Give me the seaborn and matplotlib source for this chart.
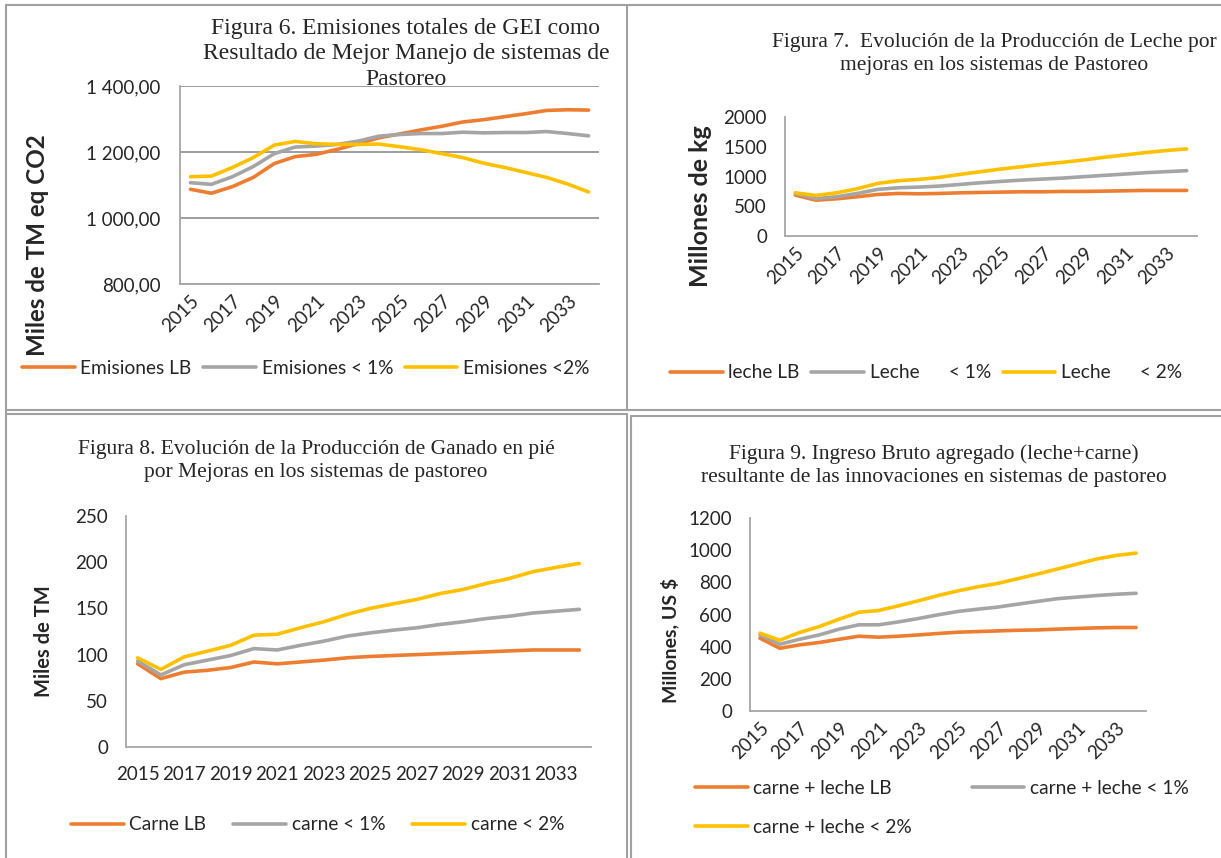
import numpy as np
import matplotlib
matplotlib.use("Agg")
import matplotlib.pyplot as plt
import seaborn as sns
from matplotlib.lines import Line2D

# Data
years = list(range(2015, 2035))

emis_lb = [1087, 1075, 1095, 1123, 1165, 1186, 1193, 1208, 1225, 1243,
           1255, 1267, 1278, 1291, 1298, 1307, 1316, 1326, 1328, 1327]
emis_1 = [1107, 1102, 1125, 1156, 1195, 1215, 1218, 1223, 1233, 1248,
          1253, 1256, 1256, 1260, 1258, 1259, 1259, 1262, 1256, 1249]
emis_2 = [1125, 1127, 1153, 1183, 1221, 1232, 1225, 1223, 1223, 1224,
          1216, 1207, 1195, 1183, 1166, 1153, 1138, 1123, 1103, 1079]

leche_lb = [687, 602, 625, 659, 698, 715, 709, 715, 726, 732,
            738, 743, 743, 749, 749, 754, 760, 766, 766, 766]
leche_1 = [715, 630, 659, 715, 783, 811, 822, 839, 867, 895,
           918, 940, 957, 974, 997, 1019, 1041, 1064, 1081, 1098]
leche_2 = [726, 681, 726, 794, 884, 929, 951, 985, 1036, 1081,
           1126, 1165, 1205, 1239, 1278, 1323, 1362, 1402, 1436, 1464]

carne_lb = [90, 74, 81, 83, 86, 92, 90, 92, 94, 96.5,
            98, 99, 100, 101, 102, 103, 104, 105, 105, 105]
carne_1 = [93, 78, 89, 94, 99, 106.5, 105, 110, 114.5, 120,
           123.5, 126.5, 129, 132.6, 135.5, 139, 141.6, 145, 147, 149]
carne_2 = [96.5, 84, 97.5, 103.7, 110, 121, 122, 129, 135.5, 143.4,
           150, 155, 159.7, 166, 170.5, 177, 182.5, 189.7, 194.4, 198.7]

ingreso_lb = [453, 390, 411, 426, 446, 465, 459, 465, 473, 482,
              490, 494, 498, 502, 504, 509, 513, 517, 519, 519]
ingreso_1 = [473, 415, 446, 473, 509, 536, 536, 554, 575, 598,
             619, 633, 646, 664, 681, 698, 708, 718, 726, 732]
ingreso_2 = [484, 440, 488, 525, 571, 614, 625, 654, 685, 718,
             747, 772, 793, 822, 851, 882, 913, 945, 967, 982]

ORANGE = "#ED7D31"
GRAY = "#A5A5A5"
YELLOW = "#FFC000"
AXIS = "#A6A6A6"

sns.set_style("white")
plt.rcParams["font.family"] = ["Lato", "DejaVu Sans"]

W, H = 1221, 858
fig = plt.figure(figsize=(W / 100, H / 100), dpi=100)


def add_ax(left, top, right, bottom):
    return fig.add_axes([left / W, 1 - bottom / H, (right - left) / W, (bottom - top) / H])


def fx(x):
    return x / W


def fy(y):
    return 1 - y / H


pos = np.arange(len(years))


def draw(ax, series, labels, ylim, yticks, yfmt, ylabel, ylabel_size, rotate, grid=False):
    for vals, lab, col in zip(series, labels, [ORANGE, GRAY, YELLOW]):
        sns.lineplot(x=pos, y=vals, ax=ax, color=col, lw=2.6, label=lab,
                     solid_capstyle="round", solid_joinstyle="round")
    ax.set_xlim(-0.5, len(years) - 0.5)
    ax.set_ylim(*ylim)
    ax.set_yticks(yticks)
    ax.set_yticklabels([yfmt(v) for v in yticks], fontsize=13.5)
    ax.set_xticks(pos[::2])
    if rotate:
        ax.set_xticklabels([str(y) for y in years[::2]], rotation=45, ha="right",
                           rotation_mode="anchor", fontsize=13.5)
    else:
        ax.set_xticklabels([str(y) for y in years[::2]], fontsize=13.5)
    ax.tick_params(axis="x", length=0, pad=6)
    ax.tick_params(axis="y", length=0, pad=13)
    for s in ["top", "right"]:
        ax.spines[s].set_visible(False)
    for s in ["left", "bottom"]:
        ax.spines[s].set_color(AXIS)
        ax.spines[s].set_linewidth(1.3)
    if grid:
        ax.yaxis.grid(True, color="#8C8C8C", lw=1.2)
        ax.set_axisbelow(True)
    ax.set_xlabel("")
    ax.set_ylabel(ylabel, fontsize=ylabel_size, fontweight="bold")
    ax.get_legend().remove()
    ax.set_facecolor("none")


def place_ylabel(ax, right_px, center_px, left, top, right, bottom):
    ax.yaxis.set_label_coords((right_px - left) / (right - left),
                              (bottom - center_px) / (bottom - top))


# Table borders
for (x0, y0, x1, y1) in [(6, 5, 1221, 5), (6, 5, 6, 858), (627, 5, 627, 410),
                         (6, 410, 1221, 410), (6, 414, 627, 414), (631, 416, 1221, 416),
                         (631, 416, 631, 858), (627, 414, 627, 858)]:
    fig.add_artist(Line2D([fx(x0), fx(x1)], [fy(y0), fy(y1)], color="#A0A0A0", lw=1.5))

# Figura 6
box1 = (180, 86, 599, 284)
ax1 = add_ax(*box1)
draw(ax1, [emis_lb, emis_1, emis_2], ["Emisiones LB", "Emisiones < 1%", "Emisiones <2%"],
     (800, 1400), [800, 1000, 1200, 1400],
     lambda v: f"{v // 1000} {v % 1000:03d},00" if v >= 1000 else f"{v},00",
     "Miles de TM eq CO2", 17.4, True, grid=True)
ax1.set_xticks(np.arange(-0.5, len(years)), minor=True)
ax1.tick_params(axis="x", which="minor", length=6, color=AXIS, width=1.3, direction="out")
ax1.tick_params(axis="y", length=6, color="#8C8C8C", width=1.2, direction="out", pad=8)
place_ylabel(ax1, 49, 245, *box1)
fig.text(fx(406), fy(18), "Figura 6. Emisiones totales de GEI como\nResultado de Mejor Manejo de sistemas de\nPastoreo",
         ha="center", va="top", fontsize=17, family="Liberation Serif", linespacing=1.27)

# Figura 7
box2 = (785, 117, 1197, 236)
ax2 = add_ax(*box2)
draw(ax2, [leche_lb, leche_1, leche_2], ["leche LB", "Leche      < 1%", "Leche      < 2%"],
     (0, 2000), [0, 500, 1000, 1500, 2000], lambda v: f"{v}",
     "Millones de kg", 18, True)
place_ylabel(ax2, 712, 206, *box2)
fig.text(fx(994), fy(33), "Figura 7.  Evolución de la Producción de Leche por\nmejoras en los sistemas de Pastoreo",
         ha="center", va="top", fontsize=15.5, family="Liberation Serif", linespacing=1.27)

# Figura 8
box3 = (126, 516, 591, 747)
ax3 = add_ax(*box3)
draw(ax3, [carne_lb, carne_1, carne_2], ["Carne LB", "carne < 1%", "carne < 2%"],
     (0, 250), [0, 50, 100, 150, 200, 250], lambda v: f"{v}",
     "Miles de TM", 14.5, False)
place_ylabel(ax3, 54, 641, *box3)
ax3.tick_params(axis="x", pad=14)
fig.text(fx(316), fy(440), "Figura 8. Evolución de la Producción de Ganado en pié\npor Mejoras en los sistemas de pastoreo",
         ha="center", va="top", fontsize=15.5, family="Liberation Serif", linespacing=1.27)

# Figura 9
box4 = (750, 518, 1146, 711)
ax4 = add_ax(*box4)
draw(ax4, [ingreso_lb, ingreso_1, ingreso_2],
     ["carne + leche LB", "carne + leche < 1%", "carne + leche < 2%"],
     (0, 1200), [0, 200, 400, 600, 800, 1000, 1200], lambda v: f"{v}",
     "Millones, US $", 14, True)
place_ylabel(ax4, 679, 640, *box4)
fig.text(fx(934), fy(444), "Figura 9. Ingreso Bruto agregado (leche+carne)\nresultante de las innovaciones en sistemas de pastoreo",
         ha="center", va="top", fontsize=15.5, family="Liberation Serif", linespacing=1.27)


def legend(ax, x, y, ncol, order=(0, 1, 2), colsp=0.7, rowsp=0.5):
    handles, labels = ax.get_legend_handles_labels()
    handles = [handles[i] for i in order]
    labels = [labels[i] for i in order]
    fig.legend(handles, labels, loc="center left", bbox_to_anchor=(fx(x), fy(y)),
               ncol=ncol, frameon=False, fontsize=13.8, handlelength=2.75,
               handletextpad=0.3, columnspacing=colsp, labelspacing=rowsp,
               borderpad=0, borderaxespad=0)


legend(ax1, 22, 368, 3, colsp=0.6)
legend(ax2, 670, 373, 3, colsp=0.6)
legend(ax3, 71, 825, 3, colsp=1.4)
legend(ax4, 695, 808, 2, order=(0, 2, 1), colsp=3.1, rowsp=1.15)

fig.savefig("out.png", dpi=100)
